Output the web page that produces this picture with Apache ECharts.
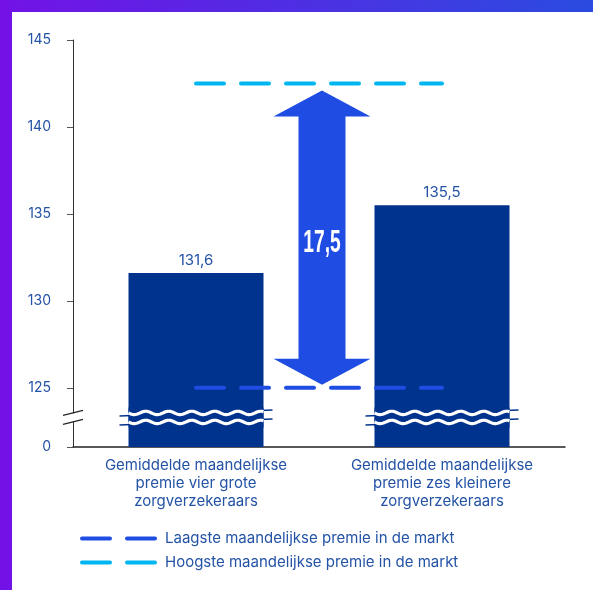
<!DOCTYPE html>
<html>
<head>
<meta charset="utf-8">
<script src="https://cdn.jsdelivr.net/npm/echarts@6/dist/echarts.min.js"></script>
<style>
  html, body { margin: 0; padding: 0; background: #fff; }
  #chart { width: 593px; height: 590px; }
</style>
</head>
<body>
<div id="chart"></div>
<script>
  // categorieen en waarden
  var categories = [
    'Gemiddelde maandelijkse\npremie vier grote\nzorgverzekeraars',
    'Gemiddelde maandelijkse\npremie zes kleinere\nzorgverzekeraars'
  ]
  var premies = [131.6, 135.5]
  var laagste = [125, 125]
  var hoogste = [142.5, 142.5]
  var yTicks = [125, 130, 135, 140, 145]
  var yBreakFloor = 121.6 // hier staat "0" na de asbreuk

  var textBlue = '#2453a6'
  var barBlue = '#00338d'
  var lowBlue = '#1f4ce2'
  var highCyan = '#00b6f1'
  var font = 'Inter'
  // twee streepjes met ronde uiteinden voor de legenda
  var dashIcon = 'path://M2,0 H30 A2,2 0 0 1 30,4 H2 A2,2 0 0 1 2,0 Z M47,0 H75 A2,2 0 0 1 75,4 H47 A2,2 0 0 1 47,0 Z'

  function nl (v) {
    return v.toFixed(1).replace('.', ',')
  }

  function wave (cx, cy, half) {
    var pts = []
    for (var x = -half; x <= half; x += 1) {
      pts.push([cx + x, cy + 1.7 * Math.sin(2 * Math.PI * (x + half) / 23)])
    }
    return pts
  }

  var chart = echarts.init(document.getElementById('chart'))

  var option = {
    animation: false,
    backgroundColor: '#fff',
    textStyle: { fontFamily: font },
    graphic: [
      {
        type: 'rect', left: 0, top: 0, z: 100,
        shape: { width: 593, height: 12 },
        style: {
          fill: new echarts.graphic.LinearGradient(0, 0, 1, 0, [
            { offset: 0, color: '#7312e6' },
            { offset: 1, color: '#2a4be0' }
          ])
        }
      },
      {
        type: 'rect', left: 0, top: 0, z: 100,
        shape: { width: 12, height: 590 },
        style: { fill: '#7312e6' }
      }
    ],
    grid: { left: 73, right: 28, top: 40, bottom: 143 },
    legend: {
      orient: 'vertical',
      left: 80,
      bottom: 20,
      padding: 0,
      itemWidth: 77,
      itemHeight: 4,
      itemGap: 9,
      textStyle: { color: textBlue, fontSize: 15, fontFamily: font, padding: [0, 0, 0, 3] },
      data: [
        { name: 'Laagste maandelijkse premie in de markt', icon: dashIcon },
        { name: 'Hoogste maandelijkse premie in de markt', icon: dashIcon }
      ]
    },
    xAxis: {
      type: 'category',
      data: categories,
      axisLine: { lineStyle: { color: '#222', width: 1.5 } },
      axisTick: { show: false },
      axisLabel: {
        interval: 0,
        color: textBlue,
        fontSize: 15,
        lineHeight: 18,
        margin: 9,
        align: 'center'
      }
    },
    yAxis: {
      type: 'value',
      min: yBreakFloor,
      max: 145,
      splitLine: { show: false },
      axisLine: { show: true, lineStyle: { color: '#333', width: 1 } },
      axisTick: {
        show: true,
        length: 6,
        lineStyle: { color: '#555' },
        customValues: [yBreakFloor].concat(yTicks)
      },
      axisLabel: {
        color: textBlue,
        fontSize: 14,
        margin: 22,
        customValues: [yBreakFloor].concat(yTicks),
        formatter: function (v) {
          return v === yBreakFloor ? '0' : String(v)
        }
      }
    },
    series: [
      {
        type: 'bar',
        data: premies,
        barWidth: 135,
        itemStyle: { color: barBlue },
        label: {
          show: true,
          position: 'top',
          distance: 5,
          color: textBlue,
          fontSize: 15,
          formatter: function (p) { return nl(p.value) }
        },
        z: 2
      },
      {
        // asbreuk: golflijnen door de staven
        type: 'custom',
        data: [[0], [1]],
        encode: { x: 0 },
        z: 4,
        silent: true,
        renderItem: function (params, api) {
          var mid = (yBreakFloor + yTicks[0]) / 2
          var c = api.coord([api.value(0), mid])
          var half = 135 / 2
          var children = []
          ;[-4.5, 4.5].forEach(function (d) {
            var y = c[1] + d
            children.push({
              type: 'line',
              shape: { x1: c[0] - half - 9, y1: y + 3, x2: c[0] + half + 9, y2: y - 3 },
              style: { stroke: barBlue, lineWidth: 1.5 }
            })
          })
          children.push({
            type: 'rect',
            shape: { x: c[0] - half, y: c[1] - 10, width: 135, height: 20 },
            style: { fill: barBlue }
          })
          ;[-4.5, 4.5].forEach(function (d) {
            children.push({
              type: 'polyline',
              shape: { points: wave(c[0], c[1] + d, half) },
              style: { stroke: '#fff', lineWidth: 3.2, fill: null }
            })
          })
          return { type: 'group', children: children }
        }
      },
      {
        // asbreuk: schuine streepjes op de y-as
        type: 'custom',
        data: [[0]],
        encode: { x: 0 },
        z: 4,
        silent: true,
        renderItem: function (params, api) {
          var mid = (yBreakFloor + yTicks[0]) / 2
          var y = api.coord([0, mid])[1]
          var ax = params.coordSys.x
          return {
            type: 'group',
            children: [
              { type: 'rect', shape: { x: ax - 2, y: y - 4, width: 4, height: 8 }, style: { fill: '#fff' } },
              { type: 'line', shape: { x1: ax - 10, y1: y - 2, x2: ax + 10, y2: y - 7 }, style: { stroke: '#222', lineWidth: 1.2 } },
              { type: 'line', shape: { x1: ax - 10, y1: y + 7, x2: ax + 10, y2: y + 2 }, style: { stroke: '#222', lineWidth: 1.2 } }
            ]
          }
        }
      },
      {
        name: 'Laagste maandelijkse premie in de markt',
        type: 'line',
        data: laagste,
        symbol: 'none',
        silent: true,
        z: 5,
        lineStyle: { color: lowBlue, width: 4, type: [28, 17], cap: 'round' },
        itemStyle: { color: lowBlue }
      },
      {
        name: 'Hoogste maandelijkse premie in de markt',
        type: 'line',
        data: hoogste,
        symbol: 'none',
        silent: true,
        z: 5,
        lineStyle: { color: highCyan, width: 4, type: [28, 17], cap: 'round' },
        itemStyle: { color: highCyan }
      },
      {
        // verschilpijl tussen laagste en hoogste premie
        type: 'custom',
        data: [[0, laagste[0], hoogste[0]]],
        encode: { x: 0, y: [1, 2] },
        z: 6,
        silent: true,
        renderItem: function (params, api) {
          var lo = api.coord([0, api.value(1)])
          var hi = api.coord([1, api.value(2)])
          var cx = (lo[0] + hi[0]) / 2 + 3
          var top = hi[1] + 7
          var bot = lo[1] - 3
          var sw = 23.5
          var hw = 48.5
          var hl = 26
          var pts = [
            [cx, top], [cx + hw, top + hl], [cx + sw, top + hl],
            [cx + sw, bot - hl], [cx + hw, bot - hl], [cx, bot],
            [cx - hw, bot - hl], [cx - sw, bot - hl], [cx - sw, top + hl],
            [cx - hw, top + hl]
          ]
          return {
            type: 'group',
            children: [
              { type: 'polygon', shape: { points: pts }, style: { fill: lowBlue } },
              {
                type: 'text',
                x: cx,
                y: (top + bot) / 2 + 5,
                scaleX: 0.6,
                style: {
                  text: nl(api.value(2) - api.value(1)),
                  fill: '#fff',
                  font: 'bold 32px "Liberation Sans"',
                  align: 'center',
                  verticalAlign: 'middle'
                }
              }
            ]
          }
        }
      }
    ]
  }

  chart.setOption(option)
</script>
</body>
</html>
